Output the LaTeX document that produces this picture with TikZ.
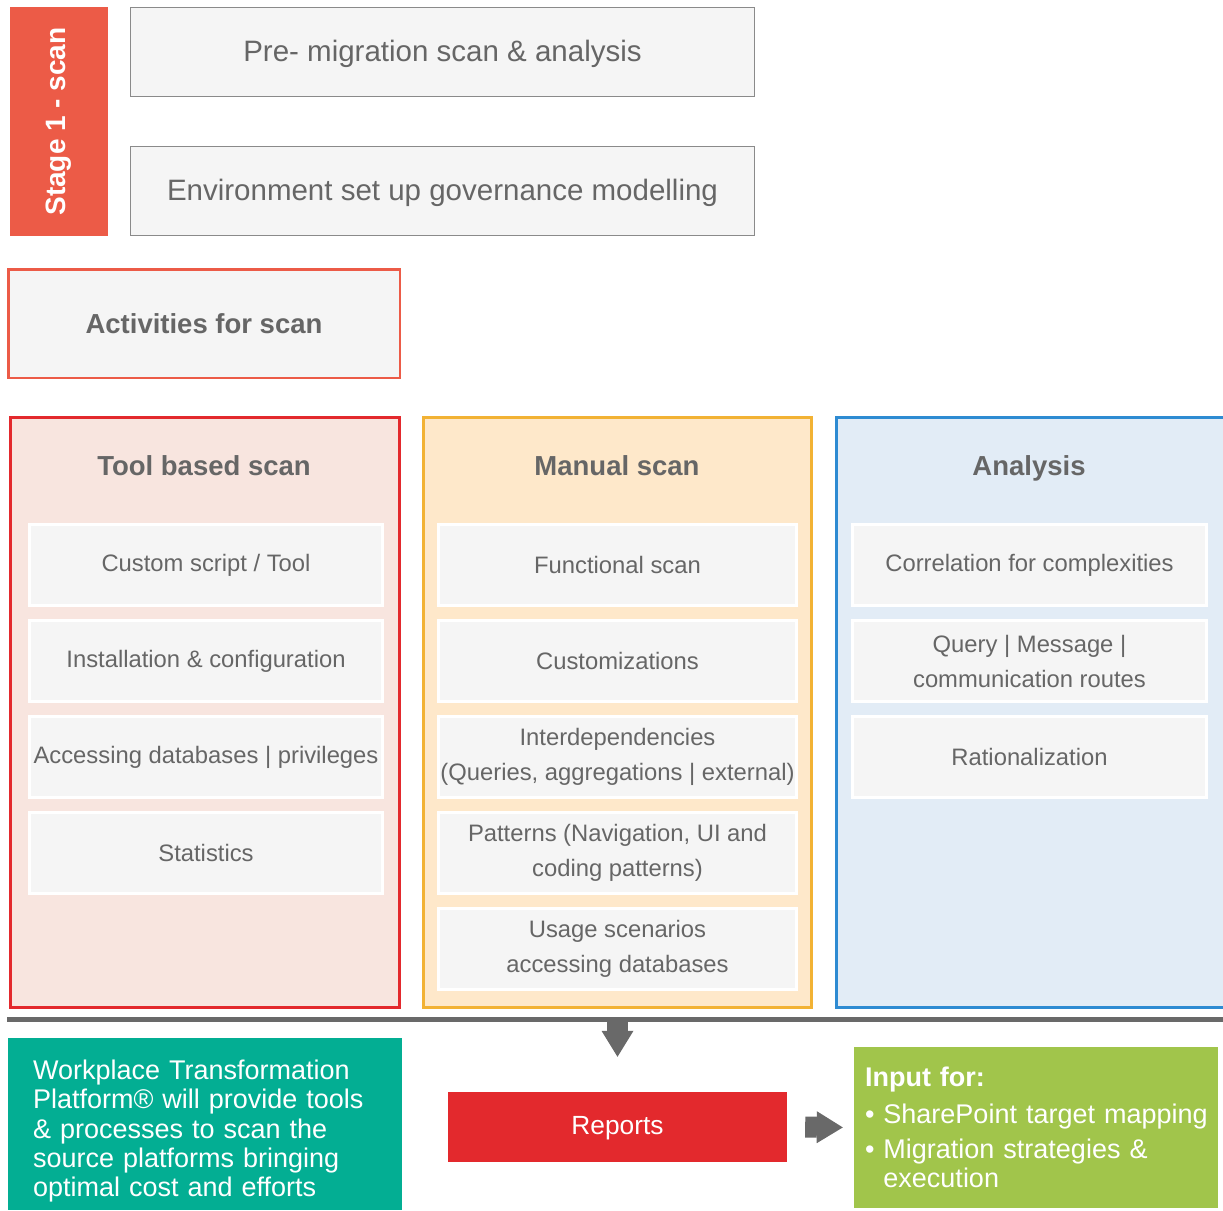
\documentclass[tikz,border=0pt]{standalone}
\usepackage{fontspec}
\setmainfont{Liberation Sans}
\usepackage{xcolor}
\usetikzlibrary{positioning, calc, arrows.meta}

\definecolor{stagered}{HTML}{EC5B47}
\definecolor{reportred}{HTML}{E3292D}
\definecolor{textgrey}{HTML}{666666}
\definecolor{boxline}{HTML}{8A8A8A}
\definecolor{boxfill}{HTML}{F5F5F5}
\definecolor{toolfill}{HTML}{F8E5DF}
\definecolor{manualline}{HTML}{F2B234}
\definecolor{manualfill}{HTML}{FEE8CA}
\definecolor{analysisline}{HTML}{2E8BD2}
\definecolor{analysisfill}{HTML}{E2ECF6}
\definecolor{arrowgrey}{HTML}{696969}
\definecolor{platformteal}{HTML}{03AE93}
\definecolor{inputgreen}{HTML}{A1C54B}

\newcommand\fsize[2]{\fontsize{#1}{#2}\selectfont} % size, baseline skip

\begin{document}
\begin{tikzpicture}[x=1pt, y=-1pt,
    greybox/.style={draw=boxline, fill=boxfill, line width=1pt, minimum width=624pt, minimum height=89pt, text height=22pt, text depth=3pt, text=textgrey, font=\fsize{29.5}{35}},
    column/.style={line width=3pt, minimum width=389pt, minimum height=590pt},
    heading/.style={text=textgrey, text height=20pt, text depth=2pt, font=\bfseries\fsize{27.5}{33}},
    itemstyle/.style={draw=white, line width=3pt, fill=boxfill, minimum height=81pt, inner xsep=2pt, text=textgrey, align=center, font=\fsize{23.8}{35}},
    blockarrow/.style={draw=arrowgrey, line width=21pt, -{Triangle[width=32pt, length=26pt, line width=0pt]}}]
  \useasboundingbox (0,0) rectangle (1223,1210);
  % stage 1 header
  \node[fill=stagered, minimum width=229pt, minimum height=98pt, rotate=90, text=white, font=\bfseries\fsize{28}{33}] (stage) at (59,121.5) {Stage 1 - scan};
  \node[greybox] (premig) at (442.5,52) {Pre- migration scan \& analysis};
  \node[greybox] (envsetup) at (442.5,191) {Environment set up governance modelling};
  \node[draw=stagered, line width=2.5pt, fill=boxfill, minimum width=391.5pt, minimum height=108.5pt, text=textgrey, font=\bfseries\fsize{27.5}{33}] (activities) at (204,323.5) {Activities for scan};
  % three columns
  \node[column, draw=reportred, fill=toolfill] (toolcol) at (205,712.5) {};
  \node[column, draw=manualline, fill=manualfill, minimum width=388pt] (manualcol) at (617.5,712.5) {};
  \node[column, draw=analysisline, fill=analysisfill, minimum width=400pt] (analysiscol) at (1036.5,712.5) {};
  \node[heading] (toolhead) at (204,466) {Tool based scan};
  \node[heading] (manualhead) at (617,466) {Manual scan};
  \node[heading] (analysishead) at (1029,466) {Analysis};
  \foreach \txt [count=\i] in {{Custom script / Tool}, {Installation \& configuration}, {Accessing databases | privileges}, {Statistics}}
    \node[itemstyle, minimum width=353pt] (tool\i) at (206,469+96*\i) {\txt};
  \foreach \txt [count=\i] in {{Functional scan}, {Customizations}, {Interdependencies\\(Queries, aggregations | external)}, {Patterns (Navigation, UI and\\coding patterns)}, {Usage scenarios\\accessing databases}}
    \node[itemstyle, minimum width=358pt] (manual\i) at (617.5,469+96*\i) {\txt};
  \foreach \txt [count=\i] in {{Correlation for complexities}, {Query | Message |\\communication routes}, {Rationalization}}
    \node[itemstyle, minimum width=354pt] (analysis\i) at (1029.5,469+96*\i) {\txt};
  % rule and outputs
  \coordinate (ruleleft) at (7,1019.5);
  \coordinate (ruleright) at (1223,1019.5);
  \coordinate (rulemid) at (617.5,1019.5);
  \draw[arrowgrey, line width=5pt] (ruleleft) -- (ruleright);
  \node[fill=platformteal, minimum width=394pt, minimum height=172pt, text width=344pt, inner xsep=25pt, align=left, text=white, font=\fsize{27}{29.3}] (platform) at (205,1124) {\rule{0pt}{34pt}Workplace Transformation\\Platform® will provide tools\\\& processes to scan the\\source platforms bringing\\optimal cost and efforts};
  \node[fill=reportred, minimum width=339pt, minimum height=70pt, text height=19pt, text depth=5pt, text=white, font=\fsize{26.3}{30}] (reports) at (617.5,1127) {Reports};
  \node[fill=inputgreen, minimum width=364pt, minimum height=161pt, text width=342pt, inner xsep=11pt, align=left, text=white, font=\fsize{27}{29}] (input) at (1036,1127.5) {\textbf{Input for:}\\[8pt]\mbox{• SharePoint target mapping}\\[6pt]\mbox{• Migration strategies \&}\\\mbox{\phantom{• }execution}};
  \draw[blockarrow, shorten >=35pt] (rulemid) -- (reports.north);
  \draw[blockarrow, shorten <=18pt, shorten >=11pt] (reports.east) -- (input.west);
\end{tikzpicture}
\end{document}
